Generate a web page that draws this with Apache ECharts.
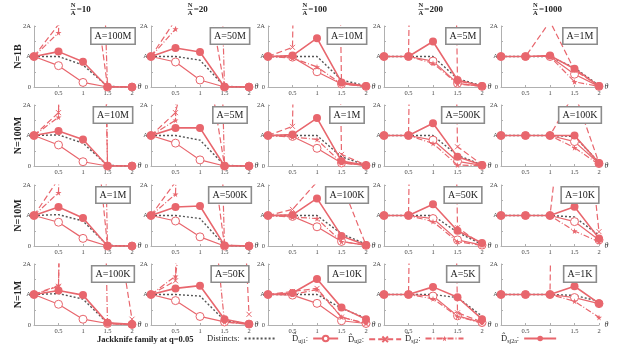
<!DOCTYPE html>
<html><head><meta charset="utf-8">
<script src="https://cdn.jsdelivr.net/npm/echarts@6/dist/echarts.min.js"></script>
<style>html,body{margin:0;padding:0;background:#fff}#c{width:619px;height:351px}</style>
</head><body><div id="c"></div>
<script>
// ---------- data (values in units of A) ----------
const theta = [0, 0.5, 1, 1.5, 2];
const rowLabels = ['N=1B', 'N=100M', 'N=10M', 'N=1M'];
const ratioLabels = ['10', '20', '100', '200', '1000'];
const boxLabels = [
  ['A=100M', 'A=50M', 'A=10M', 'A=5M', 'A=1M'],
  ['A=10M', 'A=5M', 'A=1M', 'A=500K', 'A=100K'],
  ['A=1M', 'A=500K', 'A=100K', 'A=50K', 'A=10K'],
  ['A=100K', 'A=50K', 'A=10K', 'A=5K', 'A=1K']
];
const yTickText = { 0: '0', 1: 'A', 2: '2A' };

// each: 20 panels (row-major), 5 values at theta
const distincts = [
  [1,1.0,0.72,0.02,0],[1,1.0,0.88,0.02,0],[1,1.0,1.0,0.23,0.04],[1,1,1.0,0.27,0.04],[1,1,1,0.63,0.05],
  [1,1.02,0.75,0.02,0],[1,1.0,0.85,0.02,0],[1,1,1.0,0.3,0.03],[1,1,1.0,0.35,0.04],[1,1,1,0.97,0.12],
  [1,1.03,0.82,0.02,0],[1,1,0.9,0.02,0],[1,1,1.0,0.4,0.06],[1,1,1.0,0.45,0.05],[1,1,1,0.95,0.35],
  [1,1.03,0.85,0.06,0.01],[1,1.0,0.95,0.15,0.03],[1,1,1.0,0.55,0.22],[1,1,1.0,0.9,0.29],[1,1,1,0.97,0.78]
];
const uj1 = [
  [1,0.70,0.15,0.0,0],[1,0.82,0.23,0.0,0],[1,0.98,0.5,0.1,0.02],[1,1,0.85,0.12,0.02],[1,1,1.0,0.42,0.02],
  [1,0.69,0.14,0,0],[1,0.75,0.2,0,0],[1,0.97,0.58,0.1,0.02],[1,1,0.85,0.15,0.02],[1,1,1,0.8,0.08],
  [1,0.78,0.25,0.0,0],[1,0.82,0.3,0.0,0],[1,0.97,0.63,0.15,0.02],[1,1,0.9,0.2,0.03],[1,1,1,0.8,0.2],
  [1,0.68,0.19,0.05,0.02],[1,0.8,0.28,0.1,0.03],[1,0.98,0.71,0.14,0.05],[1,1,0.95,0.3,0.08],[1,1,1,0.9,0.7]
];
const uj2 = [
  [1,2.05,6,0.02,0],[1,2.2,4.5,0.02,0],[1,1.3,50,0.15,0.02],[1,1,50,0.2,0.03],[1,1,2.15,0.55,0.03],
  [1,1.75,40,0.0,0],[1,1.75,5,0.02,0],[1,1.3,50,0.38,0.03],[1,1,50,0.63,0.05],[1,1,1,2.4,0.1],
  [1,2.2,8,0.0,0],[1,2.1,6,0.02,0],[1,1.2,2.1,2.05,0.03],[1,1,50,0.6,0.05],[1,1,1,8,0.47],
  [1,1.27,50,5.2,0.19],[1,1.45,50,17,0.35],[1,1.1,1.2,0.26,0.05],[1,1,50,0.4,0.1],[1,1,1,60,40]
];
const sj2 = [
  [1,1.78,25,0.01,0],[1,1.9,30,0.0,0],[1,0.95,0.66,0.1,0.02],[1,1,0.78,0.1,0.02],[1,1,1.0,0.17,0.02],
  [1,1.6,60,0,0],[1,1.5,30,0,0],[1,0.95,0.87,0.1,0.02],[1,1,0.74,0.03,0.01],[1,1,1,0.6,0.05],
  [1,1.75,40,0,0],[1,1.7,30,0,0],[1,0.95,0.9,0.14,0.03],[1,1,0.8,0.14,0.02],[1,1,1,0.49,0.14],
  [1,1.3,40,0.05,0.0],[1,1.6,8,0.1,0.02],[1,1,1.16,0.26,0.05],[1,1,0.86,0.28,0.06],[1,1,1,0.78,0.25]
];
const sj2a = [
  [1,1.16,0.83,0.0,0.0],[1,1.28,1.15,0.0,0],[1,1.03,1.6,0.15,0.03],[1,1,1.49,0.23,0.03],[1,1,1.03,0.6,0.03],
  [1,1.15,0.87,0,0],[1,1.25,1.25,0,0],[1,1.03,1.57,0.16,0.02],[1,1,1.4,0.3,0.03],[1,1,1.0,1.0,0.1],
  [1,1.28,0.92,0.0,0],[1,1.28,1.31,0.02,0],[1,1.02,1.56,0.33,0.03],[1,1,1.37,0.5,0.1],[1,1,1,1.29,0.25],
  [1,1.13,0.98,0.07,0.02],[1,1.2,1.29,0.19,0.03],[1,1.05,1.51,0.57,0.19],[1,1,1.25,0.91,0.19],[1,1,1,1.27,0.71]
];

// ---------- layout ----------
const colLeft = [34, 151, 268, 384, 501];
const rowTop = [26, 105, 185, 264];
const PW = 98, PH = 61;
const RED = '#e8666d';
const SERIF = 'Liberation Serif';
const CROSS = 'path://M0,0L10,10M10,0L0,10';
const STAR = 'path://M50,0L61,35L98,35L68,57L79,91L50,70L21,91L32,57L2,35L39,35Z';

const styles = {
  Distincts: { arr: distincts, color: '#555', lineStyle: { type: [2, 2], width: 1.4, color: '#555' }, symbol: 'none' },
  uj1: { arr: uj1, color: RED, lineStyle: { type: 'solid', width: 1.2, color: RED }, symbol: 'circle', symbolSize: 8, itemStyle: { color: '#fff', borderColor: RED, borderWidth: 1 } },
  uj2: { arr: uj2, color: RED, lineStyle: { type: [6, 3], width: 1.2, color: RED }, symbol: CROSS, symbolSize: 5, itemStyle: { color: 'none', borderColor: RED, borderWidth: 1 } },
  sj2: { arr: sj2, color: RED, lineStyle: { type: [6, 2, 1, 2], width: 1.2, color: RED }, symbol: STAR, symbolSize: 6, itemStyle: { color: RED } },
  sj2a: { arr: sj2a, color: RED, lineStyle: { type: 'solid', width: 1.6, color: RED }, symbol: 'circle', symbolSize: 8, itemStyle: { color: RED } }
};
const seriesOrder = ['Distincts', 'uj1', 'uj2', 'sj2', 'sj2a'];

const grid = [], xAxis = [], yAxis = [], series = [], graphic = [];
for (let r = 0; r < 4; r++) {
  for (let c = 0; c < 5; c++) {
    const p = r * 5 + c;
    grid.push({ left: colLeft[c], top: rowTop[r], width: PW, height: PH, containLabel: false });
    xAxis.push({
      type: 'value', gridIndex: p, min: 0, max: 2, interval: 0.5,
      name: 'θ', nameLocation: 'end', nameGap: 4,
      nameTextStyle: { fontFamily: SERIF, fontStyle: 'italic', fontSize: 8, color: '#333', verticalAlign: 'middle' },
      axisLine: { lineStyle: { color: '#b0b0b0', width: 1 } },
      axisTick: { show: true, inside: true, length: 2, lineStyle: { color: '#b0b0b0' } },
      axisLabel: { fontFamily: SERIF, fontSize: 6.5, color: '#444', margin: 3, formatter: v => (v === 0 ? '' : String(v)) },
      splitLine: { show: false }
    });
    yAxis.push({
      type: 'value', gridIndex: p, min: 0, max: 2, interval: 0.5,
      axisLine: { show: true, lineStyle: { color: '#b0b0b0', width: 1 } },
      axisTick: { show: true, inside: true, length: 2, lineStyle: { color: '#b0b0b0' } },
      axisLabel: { fontFamily: SERIF, fontSize: 6.5, color: '#444', margin: 3, formatter: v => (yTickText[v] !== undefined ? yTickText[v] : '') },
      splitLine: { show: false }
    });
    seriesOrder.forEach((key, k) => {
      const s = styles[key];
      series.push({
        type: 'line', name: key, xAxisIndex: p, yAxisIndex: p,
        data: theta.map((t, i) => [t, s.arr[p][i]]),
        color: s.color, lineStyle: s.lineStyle, symbol: s.symbol, symbolSize: s.symbolSize || 4,
        showSymbol: s.symbol !== 'none', itemStyle: s.itemStyle, clip: true, silent: true,
        animation: false, z: 2 + k
      });
    });
    // A=... box
    graphic.push({
      type: 'text', z: 101, x: colLeft[c] + 79, y: rowTop[r] + 10,
      style: {
        text: boxLabels[r][c], fontFamily: SERIF, fontSize: 10, fill: '#222', align: 'center', verticalAlign: 'middle',
        backgroundColor: '#fff', borderColor: '#8c8c8c', borderWidth: 1.6, padding: [3, 3, 2, 3]
      }
    });
  }
}
// row labels
rowLabels.forEach((t, r) => {
  graphic.push({
    type: 'text', z: 101, x: 18, y: rowTop[r] + PH / 2, rotation: Math.PI / 2,
    style: { text: t, fontFamily: SERIF, fontWeight: 'bold', fontSize: 10, fill: '#222', align: 'center', verticalAlign: 'middle' }
  });
});
// column headers  N/A = x
ratioLabels.forEach((t, c) => {
  const cx = colLeft[c] + PW / 2;
  const fx = cx - 5 - t.length * 2.4;
  graphic.push({ type: 'text', z: 101, x: fx, y: 5, style: { text: 'N', fontFamily: SERIF, fontWeight: 'bold', fontSize: 6.5, fill: '#222', align: 'center', verticalAlign: 'middle' } });
  graphic.push({ type: 'line', z: 101, shape: { x1: fx - 2.5, y1: 9.5, x2: fx + 2.5, y2: 9.5 }, style: { stroke: '#222', lineWidth: 0.6 } });
  graphic.push({ type: 'text', z: 101, x: fx, y: 13.5, style: { text: 'A', fontFamily: SERIF, fontWeight: 'bold', fontSize: 6.5, fill: '#222', align: 'center', verticalAlign: 'middle' } });
  graphic.push({ type: 'text', z: 101, x: fx + 3.5, y: 9.5, style: { text: '=' + t, fontFamily: SERIF, fontWeight: 'bold', fontSize: 9, fill: '#222', align: 'left', verticalAlign: 'middle' } });
});
// legend caption
graphic.push({ type: 'text', z: 101, x: 97, y: 340, style: { text: 'Jackknife family at q=0.05', fontFamily: SERIF, fontWeight: 'bold', fontSize: 8.5, fill: '#222', verticalAlign: 'middle' } });

const legendNames = { Distincts: '{t|Distincts:}', uj1: '{t|D\u0302}{s|uj1}{t|:}', uj2: '{t|D\u0302}{s|uj2}{t|:}', sj2: '{t|D\u0302}{s|sj2}{t|:}', sj2a: '{t|D\u0302}{s|sj2a}{t|:}' };
const legendPos = { Distincts: [207, 30], uj1: [292, 25], uj2: [348, 32], sj2: [405, 38], sj2a: [501, 32] };
const legend = seriesOrder.map(k => ({
  left: legendPos[k][0], top: 334, orient: 'horizontal', align: 'right', padding: 0,
  itemWidth: legendPos[k][1], itemHeight: 7, selectedMode: false,
  data: [k === 'Distincts' ? { name: k, itemStyle: { opacity: 0 } } : k],
  formatter: n => legendNames[n],
  textStyle: { fontFamily: SERIF, fontSize: 8.5, color: '#222', rich: { t: { fontFamily: SERIF, fontSize: 8.5, color: '#222' }, s: { fontFamily: SERIF, fontSize: 6, color: '#222', verticalAlign: 'bottom', padding: [5, 0, 0, 0] } } }
}));

const chart = echarts.init(document.getElementById('c'), null, { renderer: 'canvas' });
chart.setOption({
  animation: false,
  backgroundColor: '#fff',
  grid, xAxis, yAxis, series, graphic, legend
});
</script></body></html>
